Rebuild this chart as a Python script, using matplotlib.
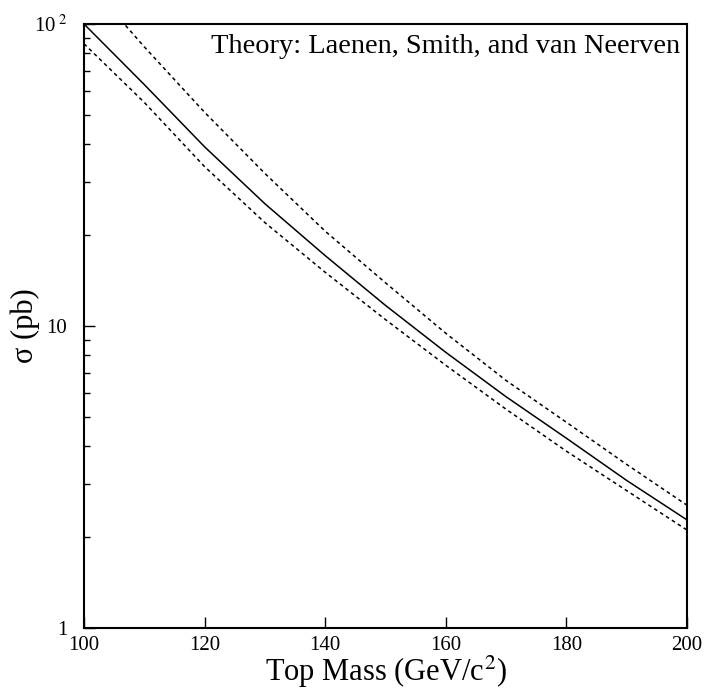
import matplotlib
matplotlib.use("Agg")
import matplotlib.pyplot as plt
from matplotlib.ticker import FixedLocator, FixedFormatter, LogLocator, NullFormatter

plt.rcParams['font.family'] = ['Liberation Serif', 'DejaVu Serif']
plt.rcParams['mathtext.fontset'] = 'stix'

mass = [100, 110, 120, 130, 140, 150, 160, 170, 180, 190, 200]
sigma_central = [100, 63, 39.2, 25.4, 17.1, 11.7, 8.18, 5.83, 4.25, 3.08, 2.28]
sigma_upper = [142, 84, 51, 32.0, 20.6, 13.9, 9.46, 6.6, 4.80, 3.48, 2.55]
sigma_lower = [86, 55, 33.7, 22.0, 15.06, 10.5, 7.41, 5.3, 3.85, 2.85, 2.11]

xticks = [100, 120, 140, 160, 180, 200]
xtick_labels = ['100', '120', '140', '160', '180', '200']
yticks = [1, 10, 100]
ytick_labels = ['1', '10', r'10$^{\ 2}$']

fig = plt.figure(figsize=(7.04, 6.92), dpi=100)
ax = fig.add_axes([84/704, 64/692, 603/704, 604/692])

ax.plot(mass, sigma_central, color='black', lw=1.1)
ax.plot(mass, sigma_upper, color='black', lw=1.1, linestyle=(0, (2.4, 2.2)))
ax.plot(mass, sigma_lower, color='black', lw=1.1, linestyle=(0, (2.4, 2.2)))

ax.set_yscale('log')
ax.set_xlim(100, 200)
ax.set_ylim(1, 100)

ax.xaxis.set_major_locator(FixedLocator(xticks))
ax.xaxis.set_major_formatter(FixedFormatter(xtick_labels))
ax.yaxis.set_major_locator(FixedLocator(yticks))
ax.yaxis.set_major_formatter(FixedFormatter(ytick_labels))
ax.yaxis.set_minor_locator(LogLocator(base=10, subs=range(2, 10)))
ax.yaxis.set_minor_formatter(NullFormatter())
ax.xaxis.set_minor_locator(FixedLocator([]))

ax.tick_params(axis='both', which='major', direction='in', length=8, width=1.0,
               labelsize=15, top=False, right=False)
ax.tick_params(axis='y', which='minor', direction='in', length=4.5, width=1.0, right=False)
ax.tick_params(axis='x', which='major', pad=6)
ax.tick_params(axis='y', which='major', pad=12)

for s in ax.spines.values():
    s.set_linewidth(1.5)

ax.set_xlabel(r'Top Mass (GeV/c$^{2}$)', fontsize=22, va='center')
ax.xaxis.set_label_coords(0.5, -0.072)
ax.set_ylabel('σ (pb)', fontsize=22, va='center')
ax.yaxis.set_label_coords(-0.097, 0.5)

ax.text(0.988, 0.952, 'Theory: Laenen, Smith, and van Neerven', transform=ax.transAxes,
        ha='right', va='baseline', fontsize=20.4)

fig.savefig('out.png', dpi=100)
